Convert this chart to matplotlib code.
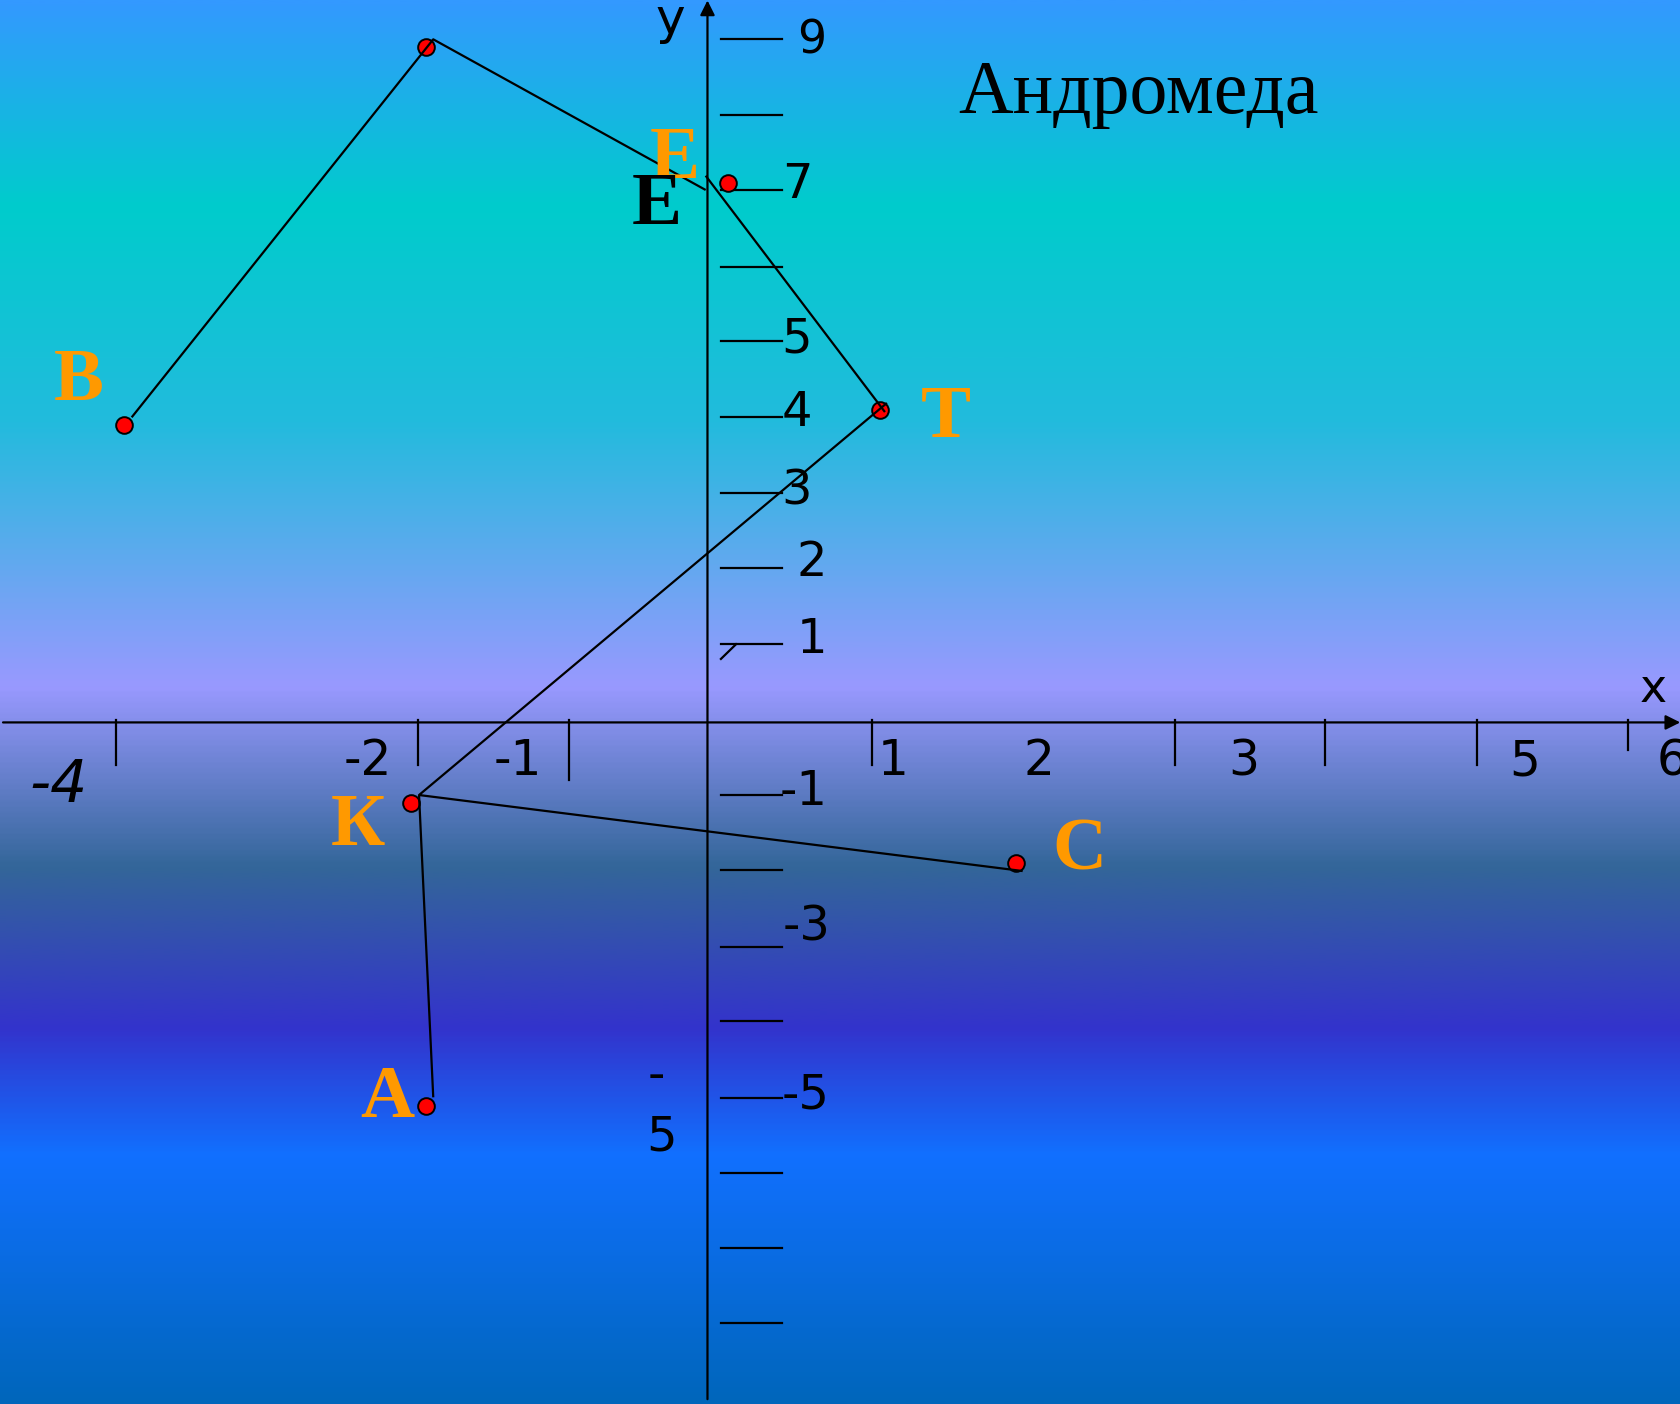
import numpy as np
import matplotlib
matplotlib.use("Agg")
import matplotlib.pyplot as plt
from matplotlib.colors import LinearSegmentedColormap

# ---------------- data (axis units) ----------------
star_names = ["В", "Е", "Т", "К", "С", "А"]
star_x = [-3.860, 0.138, 1.141, -1.964, 2.041, -1.862]
star_y = [3.940, 7.150, 4.139, -1.072, -1.867, -5.078]
apex_x = [-1.862]
apex_y = [8.952]

label_x = [-4.159, -0.217, 1.574, -2.313, 2.459, -2.115]
label_y = [4.271, 7.209, 3.785, -1.624, -1.955, -5.232]

path1_x = [-3.809, -1.814, -0.012]
path1_y = [4.042, 9.050, 7.054]
path2_x = [-0.012, 1.174]
path2_y = [7.243, 4.112]
path3_x = [1.187, -1.908, 2.085]
path3_y = [4.232, -0.962, -1.969]
path4_x = [-1.908, -1.814]
path4_y = [-0.962, -4.967]

xtick_pos = [-3.913, -1.915, -0.914, 1.088, 3.091, 4.088, 5.091, 6.091]
xtick_len = [0.564, 0.564, 0.763, 0.564, 0.564, 0.564, 0.564, 0.366]
xlabel_text = ["-2", "-1", "1", "2", "3", "5", "6"]
xlabel_x = [-2.250, -1.256, 1.226, 2.192, 3.549, 5.407, 6.384]

ytick_pos = [9.05, 8.05, 7.05, 6.04, 5.05, 4.04, 3.04, 2.04, 1.04,
             -0.965, -1.96, -2.97, -3.96, -4.97, -5.97, -6.96, -7.96]
ylabel_text = ["9", "7", "5", "4", "3", "2", "1", "-1", "-3", "-5"]
ylabel_x = [0.689, 0.595, 0.589, 0.589, 0.589, 0.689, 0.691, 0.638, 0.653, 0.650]
ylabel_y = [8.865, 6.944, 4.907, 3.927, 2.891, 1.938, 0.915, -1.094, -2.891, -5.113]

title = "Андромеда"

# ---------------- figure ----------------
W, H = 1681, 1404
fig = plt.figure(figsize=(W / 100, H / 100), dpi=100)
ax = fig.add_axes([0, 0, 1, 1])
XL = (-4.680, 6.440)
YL = (-9.030, 9.571)
ax.set_xlim(*XL)
ax.set_ylim(*YL)
ax.axis("off")

# background gradient
stops = [(0.0, "#3399FF"), (0.145, "#00CCCC"), (0.30, "#22BBDD"),
         (0.489, "#9999FF"), (0.618, "#336699"), (0.733, "#3333CC"),
         (0.824, "#1170FF"), (1.0, "#0066BB")]
cmap = LinearSegmentedColormap.from_list("bg", stops)
grad = np.linspace(0, 1, 512).reshape(-1, 1)
ax.imshow(grad, cmap=cmap, aspect="auto", extent=[XL[0], XL[1], YL[0], YL[1]],
          origin="upper", zorder=0, interpolation="bilinear")

lw = 1.6
# axes lines with arrows
ax.annotate("", xy=(6.435, 0), xytext=(-4.660, 0),
            arrowprops=dict(arrowstyle="-|>", color="black", lw=lw,
                            shrinkA=0, shrinkB=0, mutation_scale=22), zorder=3)
ax.annotate("", xy=(0, 9.565), xytext=(0, -8.966),
            arrowprops=dict(arrowstyle="-|>", color="black", lw=lw,
                            shrinkA=0, shrinkB=0, mutation_scale=22), zorder=3)

# x ticks
for xp, ln in zip(xtick_pos, xtick_len):
    ax.plot([xp, xp], [0.03, -ln], color="black", lw=lw, zorder=3)
# y ticks
for yp in ytick_pos:
    ax.plot([0.089, 0.491], [yp, yp], color="black", lw=lw, zorder=3)
ax.plot([0.089, 0.189], [0.841, 1.036], color="black", lw=lw, zorder=3)

dig = dict(family="DejaVu Sans", color="black", zorder=4)
for t, xp in zip(xlabel_text, xlabel_x):
    ax.text(xp, -0.697, t, fontsize=35, ha="center", va="baseline", **dig)
ax.text(-4.291, -1.051, "-4", fontsize=42, style="italic", ha="center",
        va="baseline", **dig)
for t, xp, yp in zip(ylabel_text, ylabel_x, ylabel_y):
    ax.text(xp, yp, t, fontsize=33 if t == "9" else 34.5, ha="center",
            va="baseline", **dig)
ax.text(-0.336, -4.857, "-", fontsize=34.5, ha="center", va="baseline", **dig)
ax.text(-0.306, -5.665, "5", fontsize=34.5, ha="center", va="baseline", **dig)
ax.text(-0.243, 9.124, "y", fontsize=36, ha="center", va="baseline", **dig)
ax.text(6.257, 0.274, "x", fontsize=33, ha="center", va="baseline", **dig)

# constellation lines
for px, py in [(path1_x, path1_y), (path2_x, path2_y), (path3_x, path3_y),
               (path4_x, path4_y)]:
    ax.plot(px, py, color="black", lw=1.6, zorder=6, solid_capstyle="butt")

# stars
ax.plot(star_x + apex_x, star_y + apex_y, linestyle="none", marker="o",
        markersize=12, markerfacecolor="#FF0000", markeredgecolor="black",
        markeredgewidth=1.4, zorder=5)

# star letters
for n, xp, yp in zip(star_names, label_x, label_y):
    ax.text(xp, yp, n, fontsize=54, fontweight="bold", family="Liberation Serif",
            color="#FF9900", ha="center", va="baseline", zorder=7)
ax.text(-0.333, 6.603, "Е", fontsize=54, fontweight="bold",
        family="Liberation Serif", color="black", ha="center", va="baseline",
        zorder=7)

ax.text(2.850, 8.070, title, fontsize=54.5, family="Liberation Serif",
        color="black", ha="center", va="baseline", zorder=7)

fig.savefig("out.png", dpi=100)
